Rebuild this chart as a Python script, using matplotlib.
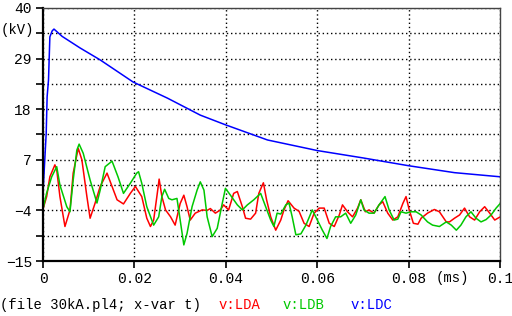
import numpy as np
import matplotlib
matplotlib.use("Agg")
import matplotlib.pyplot as plt

plt.rcParams['font.family'] = ['Liberation Mono', 'DejaVu Sans Mono']

# time in ms, voltage in kV
t_lda = [0, 0.0008, 0.0015, 0.0026, 0.0030, 0.0037, 0.0048, 0.0059, 0.0066, 0.0077,
         0.0085, 0.0096, 0.0103, 0.0114, 0.0125, 0.0140, 0.0151, 0.0162, 0.0176, 0.0191,
         0.0202, 0.0216, 0.0227, 0.0235, 0.0242, 0.0249, 0.0254, 0.0260, 0.0268, 0.0279,
         0.0289, 0.0300, 0.0308, 0.0315, 0.0322, 0.0333, 0.0348, 0.0359, 0.0366, 0.0377,
         0.0388, 0.0395, 0.0406, 0.0417, 0.0425, 0.0436, 0.0443, 0.0454, 0.0465, 0.0472,
         0.0482, 0.0489, 0.0498, 0.0509, 0.0520, 0.0527, 0.0536, 0.0549, 0.0560, 0.0571,
         0.0582, 0.0593, 0.0604, 0.0615, 0.0626, 0.0637, 0.0648, 0.0655, 0.0666, 0.0677,
         0.0688, 0.0695, 0.0705, 0.0713, 0.0724, 0.0735, 0.0743, 0.0754, 0.0765, 0.0776,
         0.0787, 0.0794, 0.0801, 0.0810, 0.0820, 0.0827, 0.0841, 0.0856, 0.0867, 0.0882,
         0.0889, 0.0900, 0.0911, 0.0922, 0.0933, 0.0944, 0.0955, 0.0966, 0.0977, 0.0988,
         0.1000]
v_lda = [-3.7, -1.0, 3.3, 5.9, 4.8, -1.0, -7.5, -3.9, 4.1, 9.5,
         7.0, -1.0, -5.7, -2.4, 1.2, 4.1, 1.2, -1.7, -2.6, -0.3,
         1.2, -1.0, -5.7, -7.5, -6.1, -1.0, 2.8, -1.0, -3.9, -5.4,
         -7.2, -2.5, -0.7, -3.2, -6.1, -4.6, -3.9, -4.0, -3.6, -4.6,
         -3.9, -2.8, -3.9, -0.3, 0.1, -3.2, -5.7, -5.9, -4.6, -0.3,
         2.0, -1.7, -5.4, -8.3, -6.1, -3.9, -1.9, -3.5, -4.2, -6.8,
         -7.5, -4.6, -3.5, -3.5, -6.8, -7.5, -5.0, -2.8, -4.3, -5.4,
         -3.5, -1.7, -4.3, -3.9, -4.6, -2.8, -2.1, -4.6, -6.1, -5.4,
         -2.5, -1.0, -3.9, -6.8, -7.0, -5.7, -4.6, -3.8, -4.3, -6.5,
         -6.5, -5.7, -5.0, -3.5, -5.4, -6.1, -4.3, -3.2, -4.6, -6.1,
         -5.4]

t_ldb = [0, 0.0008, 0.0019, 0.0030, 0.0037, 0.0052, 0.0059, 0.0066, 0.0074, 0.0079,
         0.0088, 0.0103, 0.0118, 0.0125, 0.0136, 0.0151, 0.0164, 0.0176, 0.0191, 0.0205,
         0.0209, 0.0216, 0.0227, 0.0242, 0.0253, 0.0260, 0.0266, 0.0275, 0.0282, 0.0293,
         0.0300, 0.0308, 0.0315, 0.0326, 0.0337, 0.0344, 0.0352, 0.0359, 0.0370, 0.0381,
         0.0392, 0.0399, 0.0410, 0.0425, 0.0436, 0.0447, 0.0461, 0.0476, 0.0487, 0.0498,
         0.0505, 0.0512, 0.0520, 0.0531, 0.0538, 0.0545, 0.0553, 0.0564, 0.0575, 0.0589,
         0.0600, 0.0611, 0.0621, 0.0629, 0.0640, 0.0651, 0.0662, 0.0673, 0.0684, 0.0695,
         0.0702, 0.0713, 0.0724, 0.0735, 0.0748, 0.0757, 0.0768, 0.0776, 0.0783, 0.0794,
         0.0805, 0.0816, 0.0827, 0.0841, 0.0852, 0.0867, 0.0882, 0.0893, 0.0904, 0.0914,
         0.0925, 0.0936, 0.0947, 0.0958, 0.0969, 0.0980, 0.0991, 0.1000]
v_ldb = [-3.7, -0.2, 3.3, 5.5, 1.5, -3.2, -4.3, 2.6, 9.1, 10.4,
         8.4, 2.6, -2.4, 0.4, 5.5, 6.7, 3.3, -0.3, 1.9, 4.1,
         4.4, 1.9, -3.2, -7.2, -5.4, -1.0, 0.6, -1.4, -1.7, -1.4,
         -6.1, -11.5, -9.0, -3.2, 0.4, 2.2, 0.4, -5.4, -9.7, -7.9,
         -2.5, 0.8, -0.7, -2.8, -3.9, -2.8, -1.7, -0.3, -3.2, -6.1,
         -7.5, -4.6, -4.8, -2.8, -2.4, -5.4, -9.3, -9.1, -7.2, -3.9,
         -6.1, -8.3, -10.1, -7.5, -5.4, -5.4, -4.6, -6.8, -5.0, -1.7,
         -3.9, -4.6, -4.6, -2.8, -1.0, -3.9, -6.1, -5.9, -4.3, -4.6,
         -4.3, -4.3, -5.0, -6.5, -7.2, -7.5, -6.5, -7.2, -8.3, -7.2,
         -5.4, -4.3, -5.7, -6.5, -6.0, -5.0, -3.5, -2.5]

t_ldc = [0, 0.0007, 0.0009, 0.0012, 0.0015, 0.0020, 0.0024, 0.0042, 0.0081, 0.0125,
         0.0197, 0.0272, 0.0344, 0.0399, 0.0491, 0.0600, 0.0700, 0.0800, 0.0900, 0.1000]
v_ldc = [-0.2, 12.8, 20.7, 24.3, 33.7, 35.0, 35.4, 33.8, 31.3, 28.7,
         23.9, 20.4, 16.7, 14.6, 11.3, 9.0, 7.4, 5.7, 4.2, 3.3]

x_ticks = [0, 0.02, 0.04, 0.06, 0.08, 0.1]
x_labels = ['0', '0.02', '0.04', '0.06', '0.08', '0.1']
y_ticks = [-15, -9.5, -4, 1.5, 7, 12.5, 18, 23.5, 29, 34.5, 40]
y_labels = ['\u221215', '', '\u22124', '', '7', '', '18', '', '29', '', '40']

fig = plt.figure(figsize=(5.12, 3.16), dpi=100)
ax = fig.add_axes([0.084, 0.174, 0.893, 0.801])

ax.plot(t_lda, v_lda, color='#ff0000', lw=1.1)
ax.plot(t_ldb, v_ldb, color='#00c800', lw=1.1)
ax.plot(t_ldc, v_ldc, color='#0000ff', lw=1.1)

ax.set_xlim(0, 0.1)
ax.set_ylim(-15, 40)
ax.set_xticks(x_ticks)
ax.set_xticklabels(x_labels)
ax.set_yticks(y_ticks)
ax.set_yticklabels(y_labels)
ax.tick_params(axis='both', direction='out', length=5, width=1.2, labelsize=10.5, pad=3, colors='black')

ax.grid(True, color='black', linestyle=(0, (1, 2)), linewidth=1.0)

for s in ['left', 'bottom']:
    ax.spines[s].set_linewidth(1.6)
    ax.spines[s].set_color('black')
for s in ['top', 'right']:
    ax.spines[s].set_linewidth(1.0)
    ax.spines[s].set_color('#444444')

fig.text(0.033, 0.905, '(kV)', ha='center', va='center', fontsize=10)
fig.text(0.883, 0.12, '(ms)', ha='center', va='center', fontsize=10)

fig.text(0.0, 0.035, '(file 30kA.pl4; x-var t)', ha='left', va='center', fontsize=10)
fig.text(0.426, 0.035, 'v:LDA', ha='left', va='center', fontsize=10, color='#ff0000')
fig.text(0.551, 0.035, 'v:LDB', ha='left', va='center', fontsize=10, color='#00c800')
fig.text(0.684, 0.035, 'v:LDC', ha='left', va='center', fontsize=10, color='#0000ff')

fig.savefig('out.png', dpi=100)
